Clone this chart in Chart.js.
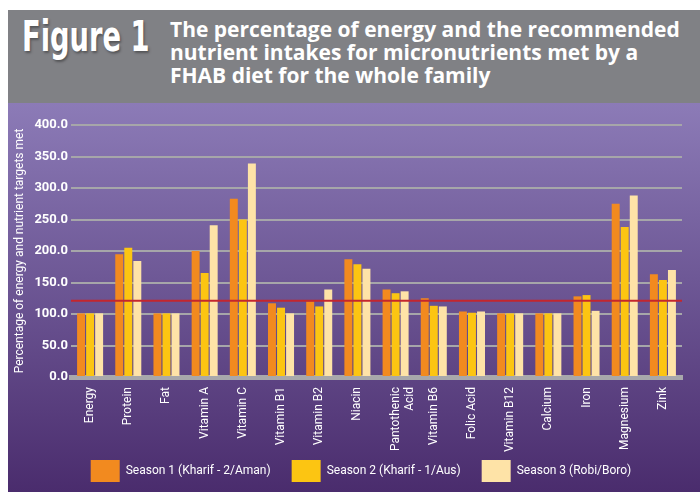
<!DOCTYPE html>
<html>
<head>
<meta charset="utf-8">
<script src="https://cdn.jsdelivr.net/npm/chart.js@4/dist/chart.umd.min.js"></script>
<style>
  html, body { margin: 0; padding: 0; background: #ffffff; width: 700px; height: 492px; overflow: hidden; }
  #header { position: absolute; left: 8px; top: 10px; width: 692px; height: 93px; background: #808185; }
  #fig { position: absolute; left: 14px; top: 6px; font-family: 'DejaVu Sans', sans-serif; font-weight: bold; font-size: 42px; line-height: 42px; color: #ffffff; transform: scaleX(0.65); transform-origin: left top; white-space: nowrap; text-shadow: 2px 2px 3px rgba(0,0,0,0.35); }
  #sub { position: absolute; left: 162px; top: 8px; font-family: 'Open Sans', sans-serif; font-weight: 700; font-size: 21px; line-height: 23px; color: #ffffff; white-space: nowrap; }
  #wrap { position: absolute; left: 8px; top: 103px; width: 692px; height: 389px; background: linear-gradient(to bottom, #8c7bb7 0%, #6e5896 45%, #4a2c6d 100%); }
  canvas { display: block; }
</style>
</head>
<body>
<div id="header">
  <div id="fig">Figure 1</div>
  <div id="sub">The percentage of energy and the recommended<br>nutrient intakes for micronutrients met by a<br>FHAB diet for the whole family</div>
</div>
<div id="wrap"><canvas id="c" width="692" height="389"></canvas></div>
<script>
const categories = ['Energy','Protein','Fat','Vitamin A','Vitamin C','Vitamin B1','Vitamin B2','Niacin',['Pantothenic','Acid'],'Vitamin B6','Folic Acid','Vitamin B12','Calcium','Iron','Magnesium','Zink'];
const season1 = [101,195,101,200,283,117,120,187,139,125,104,101,101,128,275,163];
const season2 = [101,205,101,165,250,110,112,179,133,113,102,101,101,130,238,154];
const season3 = [101,184,101,241,339,101,139,172,136,112,104,101,101,105,288,170];
const seriesNames = ['Season 1 (Kharif - 2/Aman)','Season 2 (Kharif - 1/Aus)','Season 3 (Robi/Boro)'];
const targetLine = 121;
const yTitle = 'Percentage of energy and nutrient targets met';

const labelFont = "Roboto, 'Open Sans', sans-serif";

const targetPlugin = {
  id: 'targetLine',
  afterLayout(chart) {
    // nudge the legend to the right, as in the original figure
    if (chart.legend) { chart.legend.left += 16; chart.legend.right += 16; }
  },
  afterDatasetsDraw(chart) {
    const {ctx, chartArea, scales} = chart;
    const y = scales.y.getPixelForValue(targetLine);
    ctx.save();
    ctx.strokeStyle = '#c4262e';
    ctx.lineWidth = 2;
    ctx.beginPath();
    ctx.moveTo(chartArea.left, y);
    ctx.lineTo(chartArea.right, y);
    ctx.stroke();
    ctx.restore();
  }
};

new Chart(document.getElementById('c'), {
  type: 'bar',
  data: {
    labels: categories,
    datasets: [
      { label: seriesNames[0], data: season1, backgroundColor: '#f28a1f' },
      { label: seriesNames[1], data: season2, backgroundColor: '#fcc512' },
      { label: seriesNames[2], data: season3, backgroundColor: '#fee3a7' }
    ]
  },
  options: {
    responsive: false,
    animation: false,
    devicePixelRatio: 1,
    categoryPercentage: 0.71,
    barPercentage: 0.88,
    layout: { padding: { top: 22, right: 18, bottom: 0, left: 0 } },
    plugins: {
      legend: {
        position: 'bottom',
        labels: {
          color: '#ffffff',
          boxWidth: 29,
          boxHeight: 22,
          padding: 21,
          font: { family: labelFont, size: 12 }
        }
      },
      tooltip: { enabled: false }
    },
    scales: {
      x: {
        grid: { display: false, drawTicks: false },
        border: { display: true, color: '#a8a8ab', width: 5 },
        ticks: {
          color: '#ffffff',
          minRotation: 90,
          maxRotation: 90,
          padding: 10,
          autoSkip: false,
          font: { family: labelFont, size: 12 }
        },
        afterFit(scale) {
          scale.height = 62;
          scale._computeLabelArea = () => undefined;
        }
      },
      y: {
        min: 0,
        max: 400,
        grid: { color: '#a6a6a9', lineWidth: 2, drawTicks: false },
        border: { display: false },
        ticks: {
          stepSize: 50,
          color: '#ffffff',
          padding: 3,
          font: { family: labelFont, size: 13, weight: 'bold' },
          callback: (v) => Number(v).toFixed(1)
        },
        title: {
          display: true,
          text: yTitle,
          color: '#ffffff',
          font: { family: labelFont, size: 12 },
          padding: { top: 5, bottom: 0 }
        },
        afterFit(scale) { scale.width = 63; }
      }
    }
  },
  plugins: [targetPlugin]
});
</script>
</body>
</html>
